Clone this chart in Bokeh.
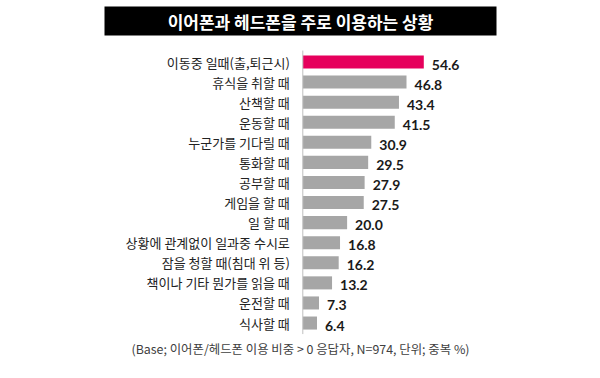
from bokeh.plotting import figure
from bokeh.models import ColumnDataSource, Range1d, BoxAnnotation, Label
from bokeh.core.properties import value
from bokeh.embed import file_html
from bokeh.resources import INLINE

title_text = "이어폰과 헤드폰을 주로 이용하는 상황"
categories = [
    "이동중 일때(출,퇴근시)",
    "휴식을 취할 때",
    "산책할 때",
    "운동할 때",
    "누군가를 기다릴 때",
    "통화할 때",
    "공부할 때",
    "게임을 할 때",
    "일 할 때",
    "상황에 관계없이 일과중 수시로",
    "잠을 청할 때(침대 위 등)",
    "책이나 기타 뭔가를 읽을 때",
    "운전할 때",
    "식사할 때",
]
values = [54.6, 46.8, 43.4, 41.5, 30.9, 29.5, 27.9, 27.5, 20.0, 16.8, 16.2, 13.2, 7.3, 6.4]
footnote = "(Base; 이어폰/헤드폰 이용 비중 > 0 응답자, N=974, 단위; 중복 %)"

W, H = 584, 362
PXU = 2.216          # px per unit along x
X0 = 302.3           # canvas px of value 0
ROW = 20.08          # px per row
Y0 = 61.5            # canvas px (from top) of first row centre

def xd(px):
    return (px - X0) / PXU

def yd(px):
    return (px - Y0) / ROW

n = len(categories)
rows = list(range(n))
colors = ["#E6005C"] + ["#A6A6A6"] * (n - 1)
labels = ["%.1f" % v for v in values]

src = ColumnDataSource(dict(cat=categories, val=values, row=rows, color=colors, lab=labels))

p = figure(width=W, height=H, output_backend="svg", toolbar_location=None,
           x_range=Range1d(xd(0), xd(W)), y_range=Range1d(yd(H), yd(0)),
           x_axis_location=None, y_axis_location=None, min_border=0)
p.outline_line_color = None
p.xgrid.visible = False
p.ygrid.visible = False
p.background_fill_color = "white"
p.border_fill_color = "white"

# bars
p.hbar(y="row", left=0, right="val", height=0.65, fill_color="color",
       line_color=None, source=src)

# axis line
p.segment(x0=[0], y0=[-0.57], x1=[0], y1=[n - 0.45], line_color="#BFBFBF", line_width=1)

# category labels
p.text(x=0, y="row", text="cat", source=src, x_offset=-13, text_align="right",
       text_baseline="middle", text_font=value("Noto Sans CJK KR"),
       text_font_size="13px", text_color="#222222")

# value labels
p.text(x="val", y="row", text="lab", source=src, x_offset=8, y_offset=2.5,
       text_align="left", text_baseline="middle", text_font=value("Lato"),
       text_font_style="bold", text_font_size="14px", text_color="#1a1a1a")

# title bar
p.add_layout(BoxAnnotation(left=xd(104), right=xd(496), top=yd(6), bottom=yd(35),
                           fill_color="black", fill_alpha=1, line_color=None))
p.add_layout(Label(x=xd(300), y=yd(20.5), text=title_text, text_align="center",
                   text_baseline="middle", text_color="white",
                   text_font="Noto Sans CJK KR", text_font_size="17px",
                   text_font_style="bold"))

# footnote
p.add_layout(Label(x=xd(300), y=yd(348), text=footnote, text_align="center",
                   text_baseline="middle", text_color="#404040",
                   text_font="Noto Sans CJK KR", text_font_size="12.4px"))

open("out.html", "w").write(file_html(p, INLINE))
